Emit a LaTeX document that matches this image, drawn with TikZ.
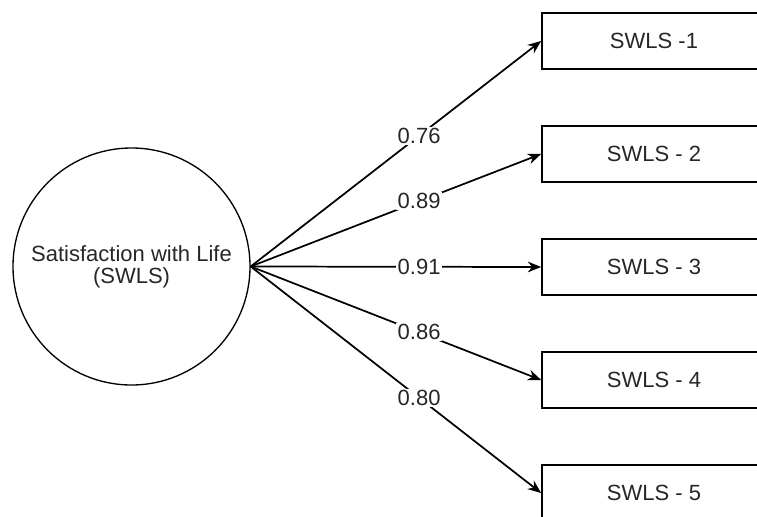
\documentclass[tikz,border=0pt]{standalone}
\usepackage{fontspec}
\setmainfont{Liberation Sans}
\usetikzlibrary{arrows.meta}
\tikzset{
  latent/.style  = {draw, circle, line width=1pt, minimum size=177.75pt, inner sep=0pt, align=center},
  item/.style    = {draw, rectangle, line width=1.3pt, minimum width=168pt, minimum height=42pt, inner sep=0pt},
  loading/.style = {line width=1.3pt, -{Stealth[length=10pt,width=8pt]}},
  coef/.style    = {fill=white, inner sep=1pt},
}

\begin{document}
\begin{tikzpicture}[x=0.75pt, y=-0.75pt, font=\fontsize{16.5}{16.5}\selectfont, text=black!85]
        \useasboundingbox (0,0) rectangle (757,517);
        \node[latent] (F) at (131.5,266.5) {Satisfaction with Life\\(SWLS)};
        \node[item] (I1) at (654,41) {SWLS -1};
        \foreach \i/\y in {2/154,3/267,4/380,5/493} {
            \node[item] (I\i) at (654,\y) {SWLS - \i};
        }
        \foreach \i/\w in {1/0.76,2/0.89,3/0.91,4/0.86,5/0.80} {
            \draw[loading] (F.east) -- (I\i.west) node[coef,pos=0.58] {\w};
        }
\end{tikzpicture}
\end{document}
